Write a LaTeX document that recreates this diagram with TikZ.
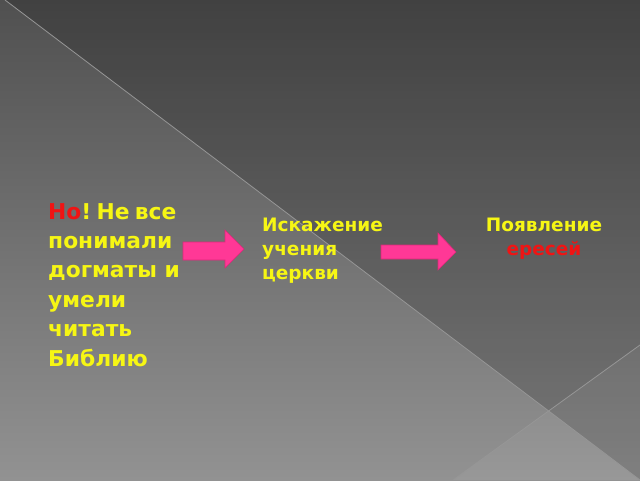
\documentclass[tikz,border=0pt]{standalone}
\usepackage{fontspec}
\setmainfont{DejaVu Sans}
\definecolor{txtyellow}{RGB}{246,246,20}
\definecolor{txtred}{RGB}{240,20,20}
\definecolor{arrowpink}{RGB}{255,56,150}
\definecolor{arrowedge}{RGB}{220,40,120}
\definecolor{bgtop}{RGB}{80,80,80}
\definecolor{bgbot}{RGB}{146,146,146}
\definecolor{seam}{RGB}{150,150,150}
\begin{document}
\begin{tikzpicture}[x=1pt,y=-1pt,
  bigtext/.style={anchor=north west,inner sep=0pt,align=left,text=txtyellow,
    font=\fontsize{21.8}{29.4}\selectfont\bfseries},
  midtext/.style={inner sep=0pt,text=txtyellow,
    font=\fontsize{18.5}{24}\selectfont\bfseries},
  blockarrow/.style={fill=arrowpink,draw=arrowedge,line width=0.6pt,line join=miter}]
\useasboundingbox (0,0) rectangle (640,480);
% background
\shade[top color=bgtop,bottom color=bgbot] (0,0) rectangle (640,480);
\fill[black,opacity=0.18] (5,0) -- (640,0) -- (640,480) -- cycle;
\fill[white,opacity=0.06] (640,345) -- (453,480) -- (640,480) -- cycle;
\draw[seam,line width=0.8pt] (5,0) -- (640,480);
\draw[seam,line width=0.8pt] (640,345) -- (453,480);
% texts
\node[bigtext] (a) at (48,203) {\textcolor{txtred}{Но}!\hspace{0.24em}Не\hspace{0.24em}все\\понимали\\догматы и\\умели\\читать\\Библию};
\node[midtext,anchor=north west,align=left] (b) at (262,218) {Искажение\\учения\\церкви};
\node[midtext,anchor=north,align=center] (c) at (544,218) {Появление\\\textcolor{txtred}{ересей}};
% arrows
\draw[blockarrow] (183,242) -- (225,242) -- (225,230) -- (244,249) -- (225,268) -- (225,260) -- (183,260) -- cycle;
\draw[blockarrow] (381,245) -- (438,245) -- (438,233) -- (456,252) -- (438,270) -- (438,259) -- (381,259) -- cycle;
\end{tikzpicture}
\end{document}
